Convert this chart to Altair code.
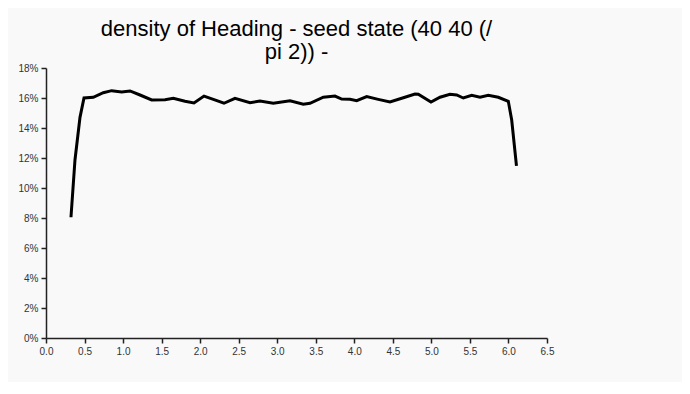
import altair as alt
import pandas as pd

heading = [0.324, 0.376, 0.441, 0.493, 0.614, 0.743, 0.852, 0.982, 1.090, 1.220,
           1.371, 1.544, 1.652, 1.803, 1.920, 2.050, 2.171, 2.309, 2.452, 2.647,
           2.776, 2.949, 3.166, 3.338, 3.425, 3.598, 3.749, 3.836, 3.944, 4.031,
           4.161, 4.311, 4.463, 4.636, 4.787, 4.830, 4.995, 5.112, 5.241, 5.328,
           5.414, 5.523, 5.631, 5.738, 5.868, 5.998, 6.042, 6.104]
density_pct = [8.05, 11.87, 14.71, 16.00, 16.05, 16.35, 16.49, 16.40, 16.47, 16.20,
               15.87, 15.89, 15.98, 15.78, 15.67, 16.13, 15.91, 15.65, 15.98, 15.69,
               15.80, 15.65, 15.82, 15.58, 15.65, 16.05, 16.13, 15.93, 15.91, 15.82,
               16.09, 15.91, 15.73, 16.02, 16.27, 16.25, 15.73, 16.05, 16.25, 16.20,
               16.00, 16.18, 16.05, 16.18, 16.05, 15.78, 14.53, 11.47]
title_lines = ["density of Heading - seed state (40 40 (/", "pi 2)) -"]
x_ticks = [0.0, 0.5, 1.0, 1.5, 2.0, 2.5, 3.0, 3.5, 4.0, 4.5, 5.0, 5.5, 6.0, 6.5]
y_ticks = [0, 0.02, 0.04, 0.06, 0.08, 0.10, 0.12, 0.14, 0.16, 0.18]

df = pd.DataFrame({"heading": heading, "density": [v / 100 for v in density_pct]})

chart = alt.Chart(df).mark_line(color="black", strokeWidth=3).encode(
    x=alt.X("heading:Q", scale=alt.Scale(domain=[0, 6.5], nice=False),
            axis=alt.Axis(values=x_ticks, format=".1f", title=None, grid=False)),
    y=alt.Y("density:Q", scale=alt.Scale(domain=[0, 0.18], nice=False),
            axis=alt.Axis(values=y_ticks, format=".0%", title=None, grid=False)),
).properties(
    width=501,
    height=270,
    title=alt.TitleParams(text=title_lines, fontSize=22, font="Liberation Sans",
                          fontWeight="normal", color="black", anchor="middle",
                          offset=-1, lineHeight=23),
    background="#f9f9f9",
    padding={"left": 38, "top": 60, "right": 135, "bottom": 44},
    autosize=alt.AutoSizeParams(type="none"),
).configure_axis(
    domainColor="#222", tickColor="#222", labelColor="#333",
    labelFont="Liberation Sans", labelFontSize=10, tickSize=5, labelPadding=3,
    domainWidth=1.5, tickWidth=1.5, labelFlush=False,
).configure_view(stroke=None)

chart.save("out.html", embed_options={"renderer": "svg", "actions": False})
